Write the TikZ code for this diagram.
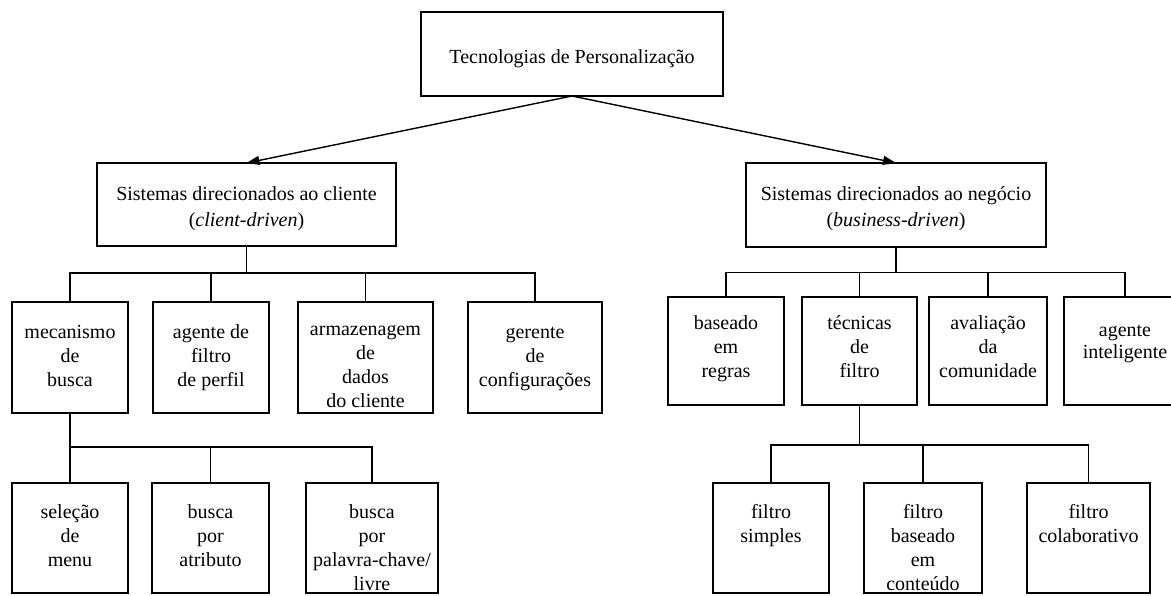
\documentclass[tikz,border=0pt]{standalone}
\usepackage{fontspec}
\setmainfont{Liberation Serif}
\usetikzlibrary{arrows.meta}

\tikzset{
  box/.style={draw, line width=0.9pt, inner sep=0pt, outer sep=0pt,
              font=\fontsize{10}{12}\selectfont},
  link/.style={line width=0.9pt},
  arr/.style={line width=0.7pt, -{Triangle[length=6.5pt,width=4.5pt]}},
}

% \mkbox{name}{x1}{y1}{x2}{y2}{first baseline below top, pt}{text}
% Box corners are given in pixel units; text is set top-aligned.
\newcommand\mkbox[7]{%
  \pgfmathsetmacro\bw{(#4-#2)/2}%
  \pgfmathsetmacro\bh{(#5-#3)/2}%
  \node[box, minimum width=\bw pt, minimum height=\bh pt] (#1)
    at ({(#2+#4)/2},{(#3+#5)/2})
    {\parbox[c][\bh pt][t]{\bw pt}{\centering\rule{0pt}{#6pt}#7}};%
}

\begin{document}
\begin{tikzpicture}[x=0.5pt, y=-0.5pt]
  \useasboundingbox (0,0) rectangle (1171,595);

  % root
  \mkbox{root}{421}{12}{723}{96}{25.5}{Tecnologias de Personaliza\c{c}\~ao}

  % second level
  \mkbox{cli}{97}{163}{396}{246}{18.5}{Sistemas direcionados ao cliente\\[1pt](\textit{client-driven})}
  \mkbox{neg}{746}{163}{1046}{247}{18.5}{Sistemas direcionados ao neg\'ocio\\[1pt](\textit{business-driven})}

  % client-driven branch
  \mkbox{mec}{12}{302}{128}{413}{18}{mecanismo\\de\\busca}
  \mkbox{agf}{153}{302}{269}{413}{18}{agente de\\filtro\\de perfil}
  \mkbox{arm}{298}{302}{433}{413}{16.5}{armazenagem\\de\\dados\\do cliente}
  \mkbox{ger}{468}{302}{602}{413}{18}{gerente\\de\\configura\c{c}\~oes}

  \mkbox{sel}{12}{483}{128}{593}{17.5}{sele\c{c}\~ao\\de\\menu}
  \mkbox{atr}{152}{483}{269}{593}{17.5}{busca\\por\\atributo}
  \mkbox{pal}{306}{483}{438}{593}{17.5}{busca\\por\\palavra-chave/\\livre}

  % business-driven branch
  \mkbox{bas}{668}{297}{784}{405}{16}{baseado\\em\\regras}
  \mkbox{tec}{802}{297}{917}{405}{16}{t\'ecnicas\\de\\filtro}
  \mkbox{ava}{929}{297}{1047}{405}{16}{avalia\c{c}\~ao\\da\\comunidade}
  \mkbox{ain}{1064}{297}{1186}{405}{19.5}{agente\\[-1pt]inteligente}

  \mkbox{fsi}{713}{483}{829}{593}{17.5}{filtro\\simples}
  \mkbox{fba}{864}{483}{982}{593}{17.5}{filtro\\baseado\\em\\conte\'udo}
  \mkbox{fco}{1027}{483}{1150}{593}{17.5}{filtro\\colaborativo}

  % bus lines
  \coordinate (busA) at (247,273);
  \coordinate (busB) at (896,272.5);
  \coordinate (busC) at (70,447);
  \coordinate (busD) at (859.5,445);

  % root to second level
  \draw[arr] (root.south) -- (cli.north);
  \draw[arr] (root.south) -- (neg.north);

  % tree connectors
  \foreach \c in {mec,agf,arm,ger}
    \draw[link] (cli.south) -- (cli.south |- busA) -| (\c.north);
  \foreach \c in {bas,tec,ava,ain}
    \draw[link] (neg.south) -- (neg.south |- busB) -| (\c.north);
  \foreach \c in {sel,atr,pal}
    \draw[link] (mec.south) -- (mec.south |- busC) -| (\c.north);
  \foreach \c in {fsi,fba,fco}
    \draw[link] (tec.south) -- (tec.south |- busD) -| (\c.north);
\end{tikzpicture}
\end{document}
